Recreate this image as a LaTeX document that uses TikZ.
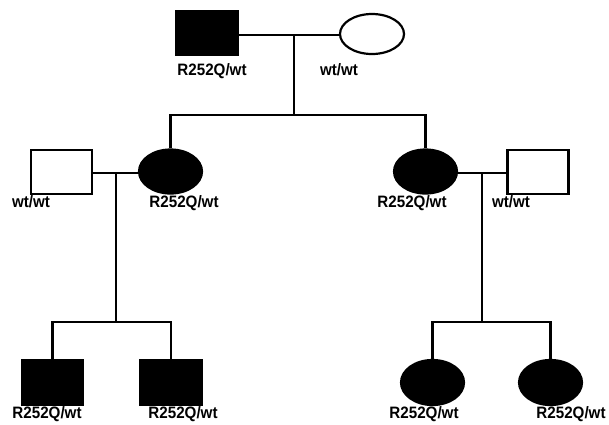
\documentclass[tikz,border=0pt]{standalone}
\usepackage{fontspec}
\setmainfont{Liberation Sans}
\newfontfamily\lblfont[FakeStretch=0.92]{Liberation Sans}
\usetikzlibrary{shapes.geometric}
\begin{document}
\begin{tikzpicture}[x=1pt,y=-1pt,
  line width=2.2pt,
  male/.style={draw=black,rectangle,minimum width=61pt,minimum height=44pt,inner sep=0pt},
  female/.style={draw=black,ellipse,minimum width=63pt,minimum height=44pt,inner sep=0pt},
  aff/.style={fill=black},
  unaff/.style={fill=white},
  lbl/.style={anchor=base,inner sep=0pt,font=\lblfont\bfseries\fontsize{16.5pt}{16.5pt}\selectfont}]
\useasboundingbox (0,0) rectangle (609,424);
% generation I
\node[male,aff,minimum height=44pt] (gf) at (207,33) {};
\node[female,unaff,minimum width=64pt,minimum height=40pt] (gm) at (372,34) {};
% generation II
\node[male,unaff] (h1) at (61.5,172) {};
\node[female,aff] (d1) at (170.5,171.5) {};
\node[female,aff] (d2) at (425.5,171.5) {};
\node[male,unaff] (h2) at (538,172) {};
% generation III
\node[male,aff] (c1) at (52.5,382.5) {};
\node[male,aff] (c2) at (171,382.5) {};
\node[female,aff,minimum height=45pt] (c3) at (432.5,382.5) {};
\node[female,aff,minimum height=45pt] (c4) at (550.5,382.5) {};
% labels
\node[lbl] (lgf) at (212,75) {R252Q/wt};
\node[lbl] (lgm) at (339,75) {wt/wt};
\node[lbl] (lh1) at (31,207) {wt/wt};
\node[lbl] (ld1) at (184,207) {R252Q/wt};
\node[lbl] (ld2) at (412,207) {R252Q/wt};
\node[lbl] (lh2) at (511,207) {wt/wt};
\node[lbl] (lc1) at (47,418) {R252Q/wt};
\node[lbl] (lc2) at (183,418) {R252Q/wt};
\node[lbl] (lc3) at (424,418) {R252Q/wt};
\node[lbl] (lc4) at (571,418) {R252Q/wt};
% junctions
\coordinate (m1) at (294,35);
\coordinate (s1) at (294,115);
\coordinate (m2) at (116,173);
\coordinate (s2) at (116,322);
\coordinate (m3) at (482,173);
\coordinate (s3) at (482,322);
% connectors
\draw (gf.east |- m1) -- (gm.west |- m1);
\draw (m1) -- (s1);
\draw (d1.north) |- (s1) -| (d2.north);
\draw (h1.east |- m2) -- (d1.west |- m2);
\draw (m2) -- (s2);
\draw (c1.north) |- (s2) -| (c2.north);
\draw (d2.east |- m3) -- (h2.west |- m3);
\draw (m3) -- (s3);
\draw (c3.north) |- (s3) -| (c4.north);
\end{tikzpicture}
\end{document}
